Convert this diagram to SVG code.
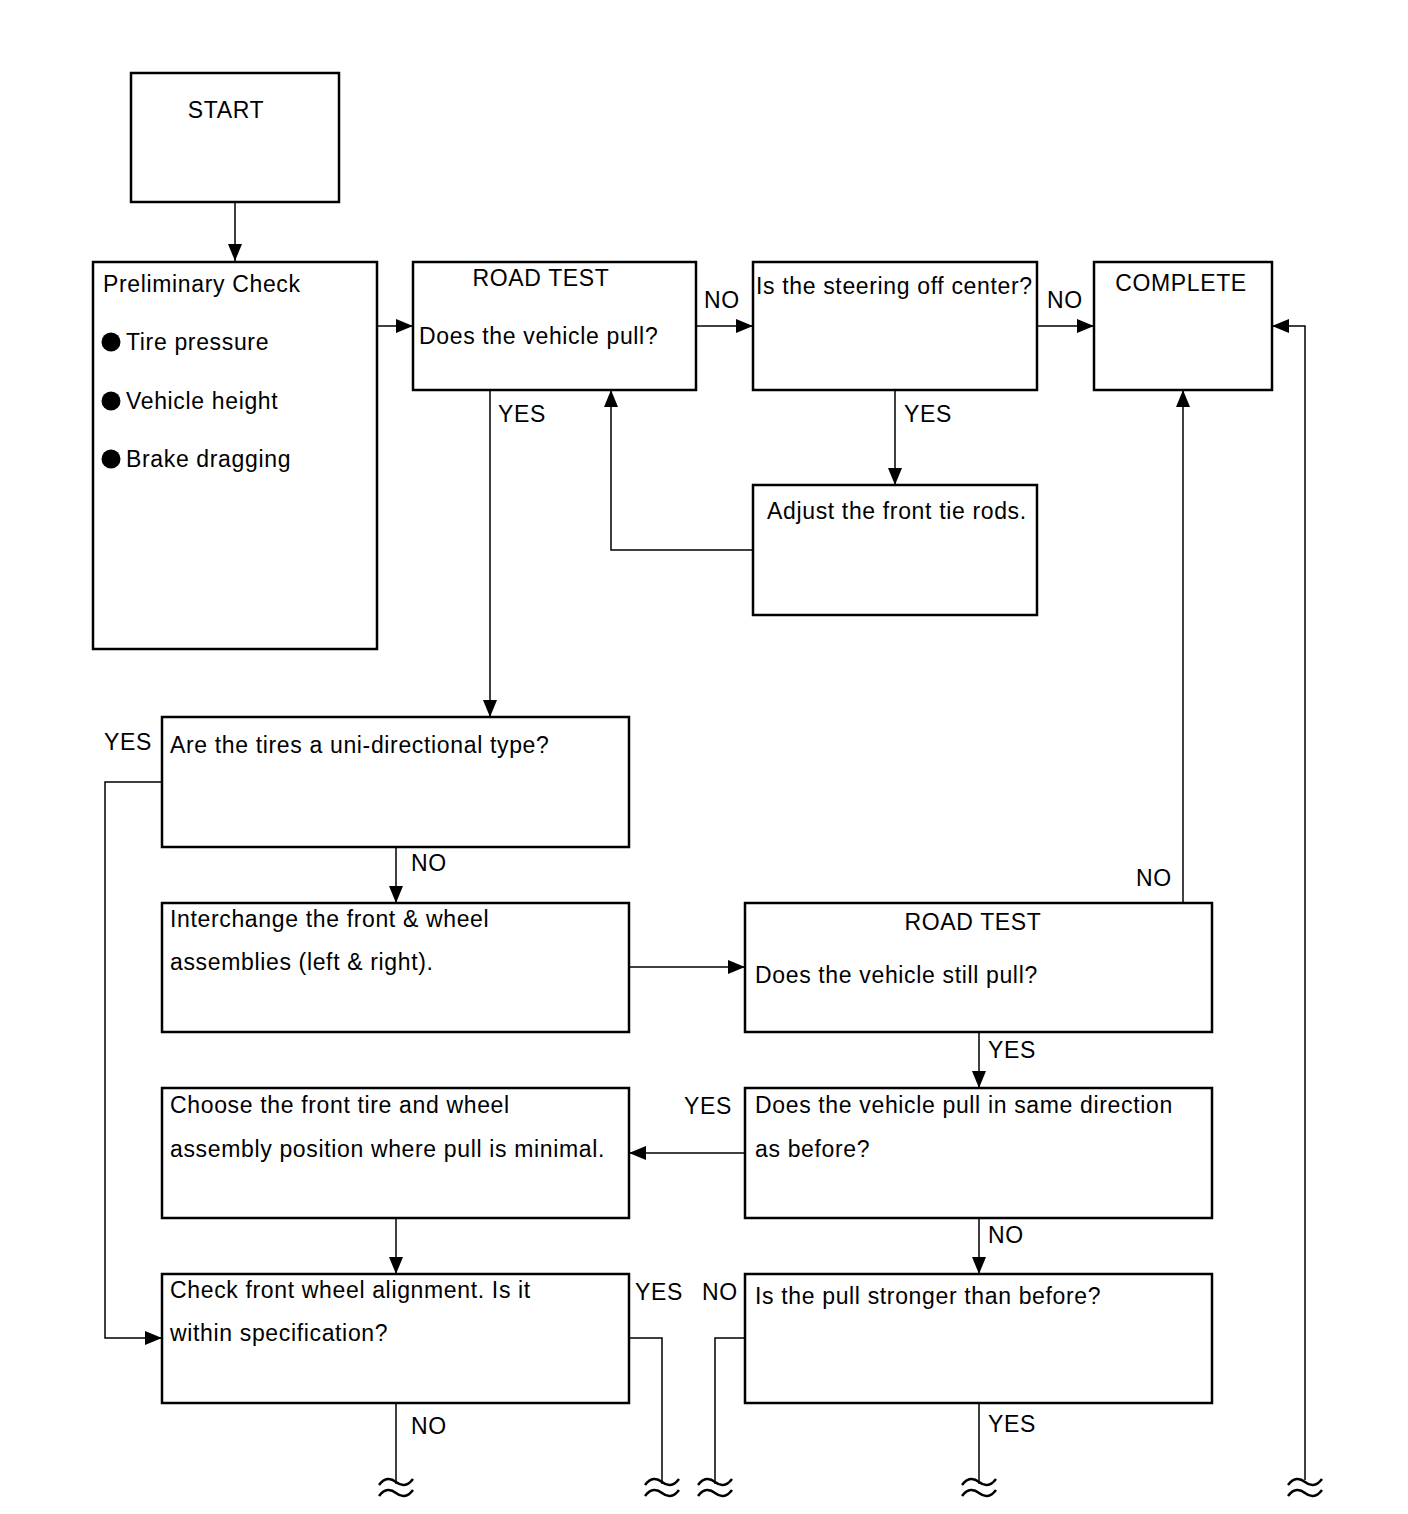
<svg xmlns="http://www.w3.org/2000/svg" width="1408" height="1514" viewBox="0 0 1408 1514">
<style>
.box{fill:#fff;stroke:#000;stroke-width:2.5}
.ln{fill:none;stroke:#000;stroke-width:1.5}
.brk{fill:none;stroke:#000;stroke-width:2.5}
text{font-family:"Liberation Sans",Arial,sans-serif;font-size:23px;letter-spacing:0.65px;fill:#000}
.c{text-anchor:middle}
</style>
<defs>
<marker id="ah" markerUnits="userSpaceOnUse" markerWidth="18" markerHeight="16" refX="17" refY="8" orient="auto">
<path d="M0,1 L17,8 L0,15 Z" fill="#000"/>
</marker>
<path id="tl" d="M-17,3 C-11,-5 -5,-4 0,0 C5,4 11,5 17,-3"/>
</defs>
<rect width="1408" height="1514" fill="#fff"/>
<g id="connectors">
<line class="ln" x1="235" y1="202" x2="235" y2="261" marker-end="url(#ah)"/>
<line class="ln" x1="377" y1="326" x2="413" y2="326" marker-end="url(#ah)"/>
<line class="ln" x1="696" y1="326" x2="753" y2="326" marker-end="url(#ah)"/>
<line class="ln" x1="1037" y1="326" x2="1094" y2="326" marker-end="url(#ah)"/>
<polyline class="ln" points="1305,1480 1305,326 1272,326" marker-end="url(#ah)"/>
<line class="ln" x1="490" y1="390" x2="490" y2="717" marker-end="url(#ah)"/>
<line class="ln" x1="895" y1="390" x2="895" y2="485" marker-end="url(#ah)"/>
<polyline class="ln" points="753,550 611,550 611,390" marker-end="url(#ah)"/>
<polyline class="ln" points="162,782 105,782 105,1338 162,1338" marker-end="url(#ah)"/>
<line class="ln" x1="396" y1="847" x2="396" y2="903" marker-end="url(#ah)"/>
<line class="ln" x1="629" y1="967" x2="745" y2="967" marker-end="url(#ah)"/>
<line class="ln" x1="1183" y1="903" x2="1183" y2="390" marker-end="url(#ah)"/>
<line class="ln" x1="979" y1="1032" x2="979" y2="1088" marker-end="url(#ah)"/>
<line class="ln" x1="745" y1="1153" x2="629" y2="1153" marker-end="url(#ah)"/>
<line class="ln" x1="396" y1="1218" x2="396" y2="1274" marker-end="url(#ah)"/>
<line class="ln" x1="979" y1="1218" x2="979" y2="1274" marker-end="url(#ah)"/>
<line class="ln" x1="396" y1="1403" x2="396" y2="1484"/>
<polyline class="ln" points="629,1338 662,1338 662,1484"/>
<polyline class="ln" points="745,1338 715,1338 715,1484"/>
<line class="ln" x1="979" y1="1403" x2="979" y2="1484"/>
<g class="brk">
<use href="#tl" x="396" y="1482"/><use href="#tl" x="396" y="1493"/>
<use href="#tl" x="662" y="1482"/><use href="#tl" x="662" y="1493"/>
<use href="#tl" x="715" y="1482"/><use href="#tl" x="715" y="1493"/>
<use href="#tl" x="979" y="1482"/><use href="#tl" x="979" y="1493"/>
<use href="#tl" x="1305" y="1482"/><use href="#tl" x="1305" y="1493"/>
</g>
<text x="704" y="308">NO</text>
<text x="1047" y="308">NO</text>
<text x="498" y="422">YES</text>
<text x="904" y="422">YES</text>
<text x="104" y="750">YES</text>
<text x="411" y="871">NO</text>
<text x="1136" y="886">NO</text>
<text x="988" y="1058">YES</text>
<text x="684" y="1114">YES</text>
<text x="988" y="1243">NO</text>
<text x="635" y="1300">YES</text>
<text x="702" y="1300">NO</text>
<text x="411" y="1434">NO</text>
<text x="988" y="1432">YES</text>
</g>
<g id="start"><rect class="box" x="131" y="73" width="208" height="129"/><text class="c" x="226" y="118">START</text></g>
<g id="prelim"><rect class="box" x="93" y="262" width="284" height="387"/>
<text x="103" y="292">Preliminary Check</text>
<circle cx="111" cy="342" r="9.5"/><text x="126" y="350">Tire pressure</text>
<circle cx="111" cy="401" r="9.5"/><text x="126" y="409">Vehicle height</text>
<circle cx="111" cy="459" r="9.5"/><text x="126" y="467">Brake dragging</text>
</g>
<g id="roadtest1"><rect class="box" x="413" y="262" width="283" height="128"/>
<text class="c" x="541" y="286">ROAD TEST</text><text x="419" y="344">Does the vehicle pull?</text></g>
<g id="steering"><rect class="box" x="753" y="262" width="284" height="128"/>
<text x="756" y="294">Is the steering off center?</text></g>
<g id="complete"><rect class="box" x="1094" y="262" width="178" height="128"/>
<text class="c" x="1181" y="291">COMPLETE</text></g>
<g id="adjust"><rect class="box" x="753" y="485" width="284" height="130"/>
<text x="767" y="519">Adjust the front tie rods.</text></g>
<g id="unidir"><rect class="box" x="162" y="717" width="467" height="130"/>
<text x="170" y="753">Are the tires a uni-directional type?</text></g>
<g id="interchange"><rect class="box" x="162" y="903" width="467" height="129"/>
<text x="170" y="927">Interchange the front &amp; wheel</text><text x="170" y="970">assemblies (left &amp; right).</text></g>
<g id="roadtest2"><rect class="box" x="745" y="903" width="467" height="129"/>
<text class="c" x="973" y="930">ROAD TEST</text><text x="755" y="983">Does the vehicle still pull?</text></g>
<g id="samedir"><rect class="box" x="745" y="1088" width="467" height="130"/>
<text x="755" y="1113">Does the vehicle pull in same direction</text><text x="755" y="1157">as before?</text></g>
<g id="choose"><rect class="box" x="162" y="1088" width="467" height="130"/>
<text x="170" y="1113">Choose the front tire and wheel</text><text x="170" y="1157">assembly position where pull is minimal.</text></g>
<g id="alignment"><rect class="box" x="162" y="1274" width="467" height="129"/>
<text x="170" y="1298">Check front wheel alignment. Is it</text><text x="170" y="1341">within specification?</text></g>
<g id="stronger"><rect class="box" x="745" y="1274" width="467" height="129"/>
<text x="755" y="1304">Is the pull stronger than before?</text></g>
</svg>
